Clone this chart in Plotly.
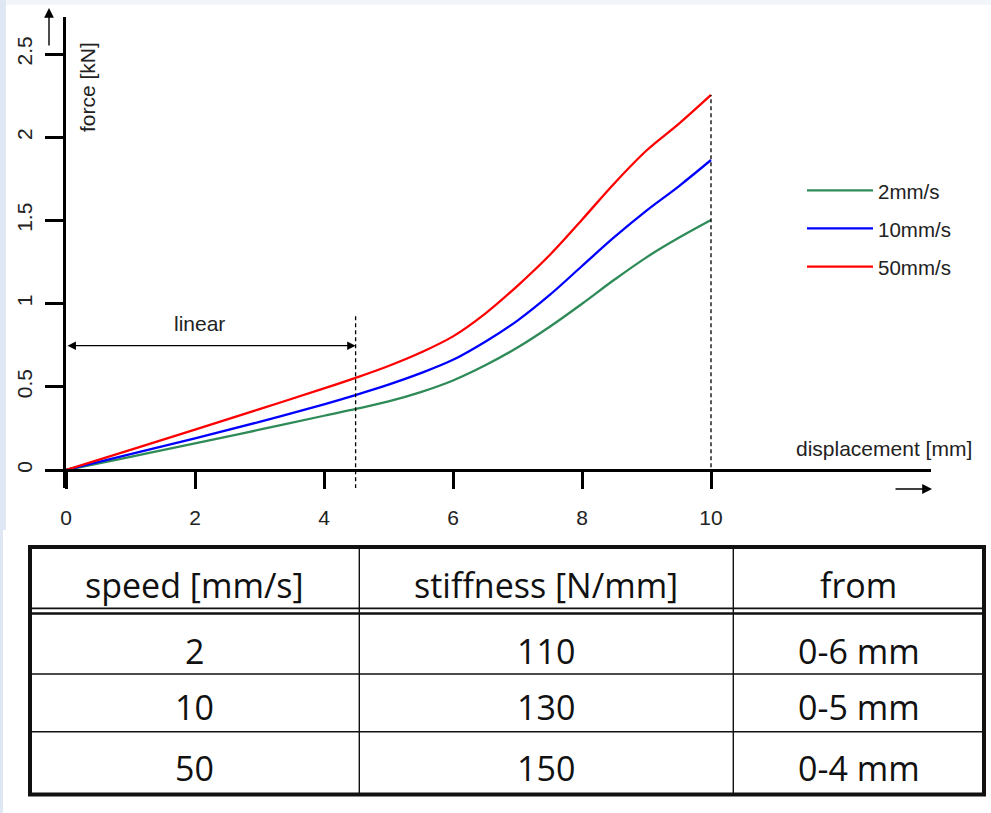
import plotly.graph_objects as go

# ---------------- data ----------------
displacement = [0, 1, 2, 3, 4, 4.5, 5, 5.5, 6, 6.5, 7, 7.5, 8, 8.5, 9, 9.5, 10]
force_2mm = [0, 0.079, 0.16, 0.242, 0.326, 0.367, 0.412, 0.468, 0.538, 0.629, 0.736,
             0.861, 0.999, 1.143, 1.278, 1.395, 1.502]
force_10mm = [0, 0.095, 0.19, 0.289, 0.395, 0.452, 0.513, 0.582, 0.662, 0.771, 0.898,
              1.052, 1.226, 1.399, 1.559, 1.705, 1.863]
force_50mm = [0, 0.121, 0.243, 0.366, 0.49, 0.555, 0.625, 0.706, 0.803, 0.94, 1.107,
              1.292, 1.504, 1.722, 1.92, 2.08, 2.254]
series_names = ["2mm/s", "10mm/s", "50mm/s"]
series_colors = ["#2e8b57", "#0000ff", "#ff0000"]

linear_end = 4.49          # end of linear region [mm]
max_disp = 10              # end of test [mm]
linear_arrow_level = 0.747 # kN

x_ticks = [0, 2, 4, 6, 8, 10]
y_ticks = [0, 0.5, 1, 1.5, 2, 2.5]
y_tick_text = ["0", "0.5", "1", "1.5", "2", "2.5"]

table_header = ["speed [mm/s]", "stiffness [N/mm]", "from"]
table_speed = ["2", "10", "50"]
table_stiffness = ["110", "130", "150"]
table_from = ["0-6 mm", "0-5 mm", "0-4 mm"]

# ---------------- layout helpers (pixel -> paper) ----------------
W, H = 991, 813
ML, MR, MT, MB = 66, 60, 17, 325
PW, PH = W - ML - MR, H - MT - MB


def px(x):
    return (x - ML) / PW


def py(y):
    return (H - MB - y) / PH


FONT = "Liberation Sans, Arial, sans-serif"
TFONT = "Open Sans, Calibri, sans-serif"
TXT = "#222222"
FS = 21

fig = go.Figure()

all_series = [force_2mm, force_10mm, force_50mm]
for name, color, ys in zip(series_names, series_colors, all_series):
    fig.add_trace(go.Scatter(x=displacement, y=ys, mode="lines", name=name,
                             line=dict(color=color, width=2.3, shape="spline", smoothing=1.0),
                             showlegend=False, hoverinfo="x+y+name"))

# dashed reference lines
fig.add_trace(go.Scatter(x=[linear_end, linear_end], y=[-0.11, 0.925], mode="lines",
                         line=dict(color="black", width=1.3, dash="4px,3px"),
                         showlegend=False, hoverinfo="skip"))
fig.add_trace(go.Scatter(x=[max_disp, max_disp], y=[-0.11, max(force_50mm)], mode="lines",
                         line=dict(color="black", width=1.3, dash="4px,3px"),
                         showlegend=False, hoverinfo="skip"))

shapes = []
annotations = []

# background strips (slide background)
shapes.append(dict(type="rect", xref="paper", yref="paper", x0=px(0), x1=px(W), y0=py(5), y1=py(0),
                   fillcolor="#f2f5fa", line=dict(width=0), layer="below"))
shapes.append(dict(type="rect", xref="paper", yref="paper", x0=px(0), x1=px(6), y0=py(530), y1=py(0),
                   fillcolor="#dfe7f5", line=dict(width=0), layer="below"))
shapes.append(dict(type="rect", xref="paper", yref="paper", x0=px(0), x1=px(3), y0=py(H), y1=py(530),
                   fillcolor="#dfe7f5", line=dict(width=0), layer="below"))

# linear double arrow
annotations.append(dict(x=linear_end, y=linear_arrow_level, xref="x", yref="y",
                        ax=0, ay=linear_arrow_level, axref="x", ayref="y",
                        text="", showarrow=True, arrowhead=2, startarrowhead=2,
                        arrowside="end+start", arrowsize=1.3, startarrowsize=1.3,
                        arrowwidth=1.3, arrowcolor="black", standoff=0, startstandoff=0))
annotations.append(dict(x=2.07, y=0.88, xref="x", yref="y", text="linear", showarrow=False,
                        font=dict(family=FONT, size=FS, color=TXT), xanchor="center", yanchor="middle"))

# axis arrows
annotations.append(dict(x=px(49), y=py(8), xref="paper", yref="paper", ax=0, ay=39,
                        text="", showarrow=True, arrowhead=2, arrowsize=1.4, arrowwidth=1.4,
                        arrowcolor="black", standoff=0))
annotations.append(dict(x=px(932), y=py(489), xref="paper", yref="paper", ax=-38, ay=0,
                        text="", showarrow=True, arrowhead=2, arrowsize=1.4, arrowwidth=1.4,
                        arrowcolor="black", standoff=0))

# axis titles
annotations.append(dict(x=px(87.5), y=py(87.5), xref="paper", yref="paper", text="force [kN]",
                        textangle=-90, showarrow=False, font=dict(family=FONT, size=FS, color=TXT),
                        xanchor="center", yanchor="middle"))
annotations.append(dict(x=px(884), y=py(448), xref="paper", yref="paper", text="displacement [mm]",
                        showarrow=False, font=dict(family=FONT, size=FS, color=TXT),
                        xanchor="center", yanchor="middle"))

# legend (drawn manually)
legend_rows = [190.3, 228.3, 266.7]
for name, color, yy in zip(series_names, series_colors, legend_rows):
    shapes.append(dict(type="line", xref="paper", yref="paper", x0=px(807), x1=px(873),
                       y0=py(yy), y1=py(yy), line=dict(color=color, width=2.3)))
    annotations.append(dict(x=px(876), y=py(yy + 1), xref="paper", yref="paper", text=name,
                            showarrow=False, font=dict(family=FONT, size=20.5, color=TXT),
                            xanchor="left", yanchor="middle"))

# ---------------- table ----------------
col_edges = [30, 359.3, 733.3, 984]
row_edges = [547, 611, 674, 731.7, 794.5]
shapes.append(dict(type="rect", xref="paper", yref="paper", x0=px(3), x1=px(W), y0=py(H), y1=py(531),
                   fillcolor="white", line=dict(width=0), layer="below"))
for xe in col_edges[1:-1]:
    shapes.append(dict(type="line", xref="paper", yref="paper", x0=px(xe), x1=px(xe),
                       y0=py(row_edges[0]), y1=py(row_edges[-1]), line=dict(color="#111111", width=1.4)))
for ye in row_edges[2:-1]:
    shapes.append(dict(type="line", xref="paper", yref="paper", x0=px(col_edges[0]), x1=px(col_edges[-1]),
                       y0=py(ye), y1=py(ye), line=dict(color="#111111", width=1.4)))
# double line under header
for ye, lw in [(608.3, 1.8), (613.5, 2.6)]:
    shapes.append(dict(type="line", xref="paper", yref="paper", x0=px(col_edges[0]), x1=px(col_edges[-1]),
                       y0=py(ye), y1=py(ye), line=dict(color="#111111", width=lw)))
shapes.append(dict(type="rect", xref="paper", yref="paper", x0=px(col_edges[0]), x1=px(col_edges[-1]),
                   y0=py(row_edges[-1]), y1=py(row_edges[0]), line=dict(color="#111111", width=4)))

col_centers = [(col_edges[i] + col_edges[i + 1]) / 2 for i in range(3)]
text_rows = [585, 650.7, 707.3, 768.3]
table_cells = [table_header] + [list(r) for r in zip(table_speed, table_stiffness, table_from)]
for ty, row in zip(text_rows, table_cells):
    for cx, txt in zip(col_centers, row):
        annotations.append(dict(x=px(cx), y=py(ty), xref="paper", yref="paper", text=txt,
                                showarrow=False, font=dict(family=TFONT, size=34, color="#111111"),
                                xanchor="center", yanchor="middle"))

x_max = PW / 64.5
y_top = (470 - MT) / 166.4
y_bot = (470 - (H - MB)) / 166.4

fig.update_layout(
    width=W, height=H,
    margin=dict(l=ML, r=MR, t=MT, b=MB, pad=0),
    paper_bgcolor="white", plot_bgcolor="white",
    shapes=shapes, annotations=annotations,
    showlegend=False,
    xaxis=dict(range=[0, x_max], tickvals=x_ticks, ticks="outside", ticklen=17, tickwidth=2.5,
               tickcolor="black", showline=True, linewidth=3, linecolor="black",
               showgrid=False, zeroline=False, anchor="free", position=18 / PH,
               tickfont=dict(family=FONT, size=FS, color=TXT), ticklabelstandoff=11, automargin=False),
    yaxis=dict(range=[y_bot, y_top], tickvals=y_ticks, ticktext=y_tick_text, tickangle=-90,
               ticks="outside", ticklen=18, tickwidth=2.5, tickcolor="black",
               showline=True, linewidth=3, linecolor="black", showgrid=False, zeroline=False,
               tickfont=dict(family=FONT, size=FS, color=TXT), ticklabelstandoff=5, automargin=False),
)

fig.write_html("out.html", config={"displayModeBar": False},
               post_script="document.body.style.margin='0';document.body.style.overflow='hidden';")
